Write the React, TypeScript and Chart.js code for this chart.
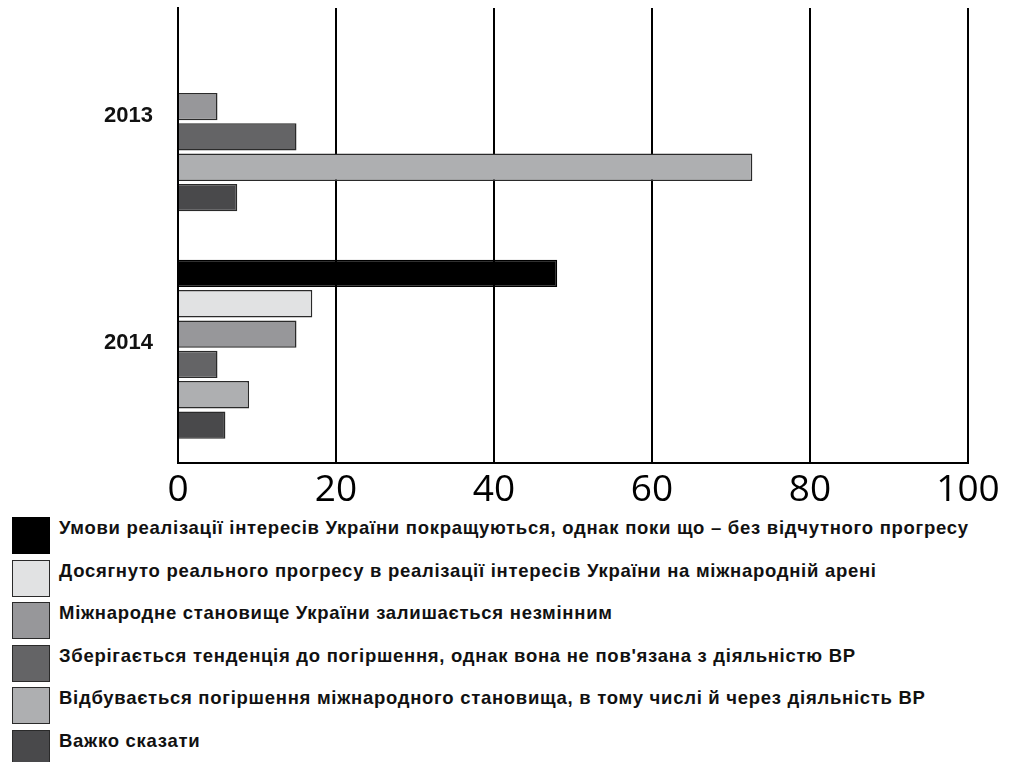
import React, { useEffect, useRef } from "react";
import { Chart, registerables } from "chart.js";

Chart.register(...registerables);

const categories = ["2013", "2014"];
const seriesNames = [
  "Умови реалізації інтересів України покращуються, однак поки що – без відчутного прогресу",
  "Досягнуто реального прогресу в реалізації інтересів України на міжнародній арені",
  "Міжнародне становище України залишається незмінним",
  "Зберігається тенденція до погіршення, однак вона не пов'язана з діяльністю ВР",
  "Відбувається погіршення міжнародного становища, в тому числі й через діяльність ВР",
  "Важко сказати",
];
const improvingValues = [null, 48];
const progressValues = [null, 17];
const unchangedValues = [5, 15];
const worseningValues = [15, 5];
const worseningVrValues = [72.7, 9];
const hardToSayValues = [7.5, 6];
const xTicks = [0, 20, 40, 60, 80, 100];

const seriesValues = [
  improvingValues,
  progressValues,
  unchangedValues,
  worseningValues,
  worseningVrValues,
  hardToSayValues,
];
const colors = ["#000000", "#e1e2e3", "#97979a", "#646466", "#aeafb1", "#49494b"];
const borders = ["#000000", "#2a2a2a", "#2a2a2a", "#2a2a2a", "#2a2a2a", "#2a2a2a"];

export default function App() {
  const canvasRef = useRef<HTMLCanvasElement | null>(null);

  useEffect(() => {
    if (!canvasRef.current) return;
    const chart = new Chart(canvasRef.current, {
      type: "bar",
      data: {
        labels: categories,
        datasets: seriesNames.map((name, i) => ({
          label: name,
          data: seriesValues[i] as any,
          backgroundColor: colors[i],
          borderColor: borders[i],
          borderWidth: 1.5,
          categoryPercentage: 0.8,
          barPercentage: 0.9,
        })),
      },
      options: {
        indexAxis: "y",
        animation: false,
        responsive: false,
        maintainAspectRatio: false,
        layout: { padding: { top: 8, right: 43, left: 0, bottom: 0 } },
        plugins: {
          legend: { display: false },
          tooltip: { enabled: false },
        },
        scales: {
          x: {
            min: 0,
            max: 100,
            afterBuildTicks: (s: any) => {
              s.ticks = xTicks.map((v) => ({ value: v }));
            },
            afterFit: (s: any) => {
              s.height = 47;
            },
            grid: { color: "#000", lineWidth: 2, drawTicks: false },
            border: { display: true, color: "#000", width: 2 },
            ticks: {
              padding: 5,
              color: "#000",
              font: { family: "'Open Sans', sans-serif", size: 37 },
            },
          },
          y: {
            afterFit: (s: any) => {
              s.width = 178;
              s.paddingTop = 0;
              s.paddingBottom = 0;
            },
            grid: { display: false, drawTicks: false },
            border: { display: true, color: "#000", width: 2 },
            ticks: {
              padding: 25,
              labelOffset: -6,
              color: "#111",
              font: { family: "'Liberation Sans', Arial, sans-serif", size: 22, weight: "bold" },
            },
          },
        },
      },
    });
    return () => chart.destroy();
  }, []);

  return (
    <div style={{ position: "absolute", left: 0, top: 0, width: 1011, height: 762, background: "#fff" }}>
      <canvas ref={canvasRef} width={1011} height={510} style={{ position: "absolute", left: 0, top: 0, width: 1011, height: 510 }} />
      {seriesNames.map((name, i) => (
        <div key={i}>
          <div
            style={{
              position: "absolute",
              left: 12,
              top: 517 + i * 42.6,
              width: 38,
              height: 37,
              boxSizing: "border-box",
              background: colors[i],
              border: `1.5px solid ${borders[i]}`,
            }}
          />
          <div
            style={{
              position: "absolute",
              left: 59,
              top: 517 + i * 42.6,
              lineHeight: "22px",
              fontFamily: "'Liberation Sans', Arial, sans-serif",
              fontWeight: "bold",
              fontSize: 18.5,
              letterSpacing: "0.72px",
              color: "#111",
              whiteSpace: "nowrap",
            }}
          >
            {name}
          </div>
        </div>
      ))}
    </div>
  );
}
